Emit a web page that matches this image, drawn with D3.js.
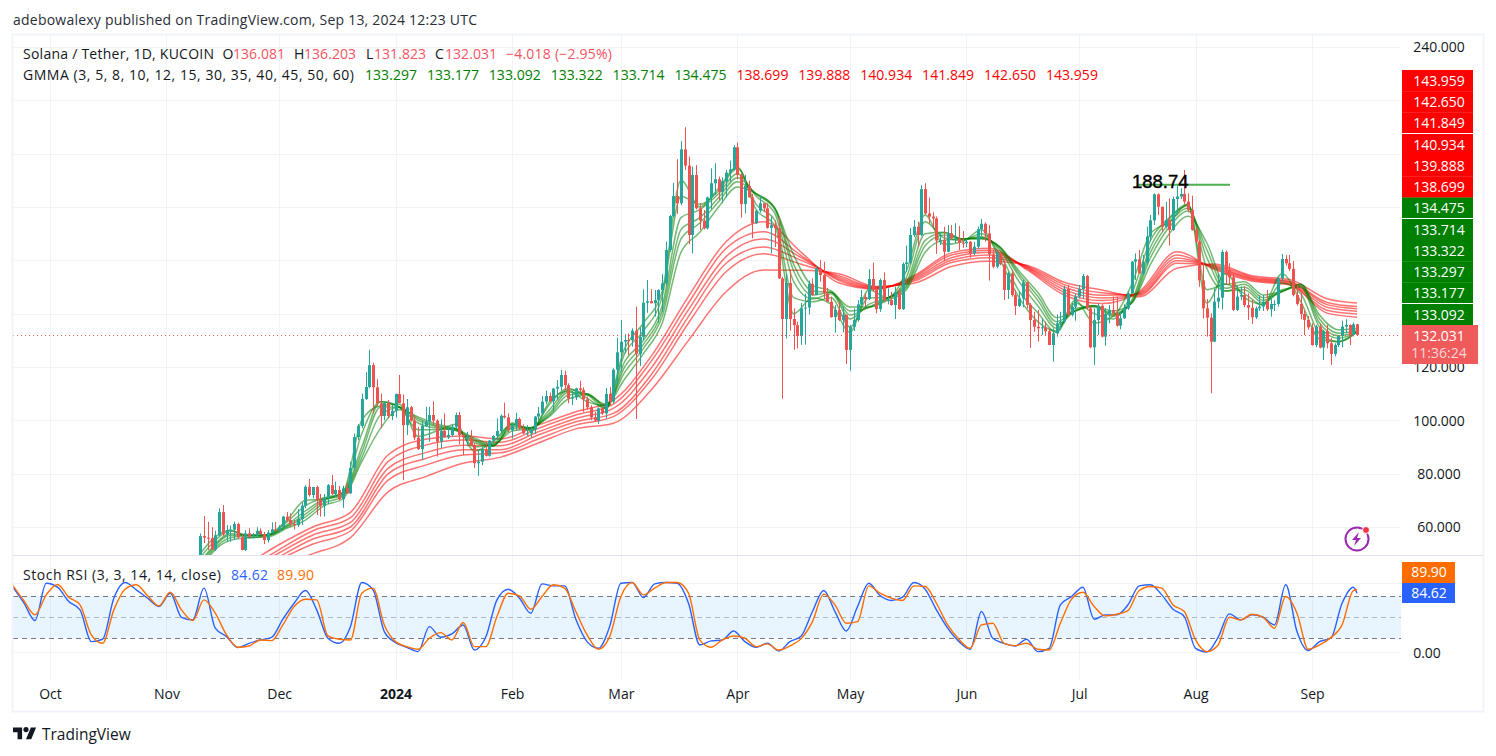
<!DOCTYPE html>
<html>
<head>
<meta charset="utf-8">
<title>SOL/USDT daily</title>
<script src="https://cdn.jsdelivr.net/npm/d3@7/dist/d3.min.js"></script>
<style>
  html, body { margin: 0; padding: 0; background: #fff; }
  svg { display: block; }
  text { font-family: "Open Sans", "Noto Sans", sans-serif; }
</style>
</head>
<body>
<svg id="chart" width="1496" height="756"></svg>
<script>
// Daily candles, first session 2023-11-10; open of each day is the prior close.
const firstSession = Date.UTC(2023, 10, 10);
const firstOpen = 49;
const closes = [
56.6,56,55.8,51.6,56.9,65.6,57.2,58.9,59,61.1,
56.1,51.4,57.6,56.3,56.8,58.6,57.3,55.1,57.9,59.1,
58.6,59.9,63.9,62.6,61.1,60.7,63,68,75.1,72,
75,70.1,68,71,75.7,72.4,73.9,70.4,74.5,72.6,
82.1,93.7,97.9,108,112.5,120.7,112.4,106.4,101.6,106.5,
101.6,103.6,109.9,106.4,98.2,104.9,99.9,93.5,89.2,97.9,
99.5,102,99.9,92,96.1,93.6,94.5,97.6,102,94.5,
93.6,93.6,90.7,83.9,84.5,89.1,86.7,92.4,94.1,96,
101.7,101.1,96.3,98.2,100.5,97,95.1,95.1,96.6,101.4,
102.6,107,109.1,107.2,111.9,112.6,117,113.2,108.2,108.6,
112,111.4,107.9,104.9,101.1,99.9,104.5,102.6,109.9,107,
119,125.5,129.5,130.1,130,133.6,124.9,131.3,144.1,144.7,
143.9,145.1,148.9,151.4,163.9,176.6,184.1,181.4,201.6,195.5,
169.5,192,179.5,174.9,172,183.6,188.9,190.4,185.7,189.7,
192.9,194.1,202.4,192,181.1,187.9,183.6,173.9,178.6,181.4,
179.5,172.2,173.2,172,153.2,138,151.5,138,135.7,131.6,
142,142.3,151.2,147,157,154.5,147.6,144.5,138.7,141.4,
137.6,139.5,126.4,135.1,137.6,143.5,146.2,145.5,153,148.9,
141.7,152.6,145.1,145.1,143.2,148,141.7,158.6,159.2,169.5,
172.6,169.5,186.7,177.6,176.4,175.7,167.4,167.6,163.2,170.1,
168.2,168.2,166.6,166.4,167,162.6,165.1,171.7,173.7,170.1,
162.2,157.6,162.6,158.5,148.9,155.1,147,142.9,145.7,151.75,
143.3,137.6,135.1,134.5,134.9,133.4,128.25,132.6,136.4,137,
149.25,139.5,142.6,146.4,149.25,154.1,142,127.4,137.6,143,
131.4,139.9,141.4,140.1,135.5,138.25,142,147.6,159.5,160.4,
155.1,159.25,168.9,175,184.75,180.1,172.6,175.1,171.4,183,
183.9,184.9,182,178.9,171.4,167,152.5,142,138.5,129.5,
144.5,146,163.15,156.4,153.65,141.4,146.4,147,143.25,142.25,
138.65,142,142.65,144.5,141.65,143.65,143.65,153.25,160.5,158.9,
156.8,147,143.65,139.9,137.65,134.9,128.25,135.15,127.3,133.5,
128.9,124.9,128.25,131.65,135.15,135.75,132,136,132.031];
const highs = [
57.6,64.1,61.9,59.9,58.6,67,68.2,60.7,60.5,62,
61.6,57.3,58.8,59.5,57.8,59.9,59.5,58.2,58.8,61.7,
61.9,60.7,64.1,65.6,65.1,62.6,66.7,69.2,75.7,78,
75,75.5,72.4,72.4,76.1,79.5,77,75.4,75.5,76.4,
84.5,95.1,98.6,110,118,126.4,121.6,115.4,110,107,
107.6,105.7,110,117,109.7,108,105.4,101.4,97.6,99.9,
105.1,105.1,107.1,100.4,100.4,102.6,97.6,98.5,102.9,103.2,
95.5,95.7,96.3,91.4,89,90.1,92,92.6,94.5,100.7,
102.2,106.6,102.6,98.6,102.9,101.1,98.5,98.2,97.6,101.6,
105.1,109.1,111.1,110.4,112.2,115.1,118.9,118.6,113.9,111,
112.2,114.9,112.4,108.9,105.7,103.2,104.9,105.1,112.2,112.4,
119.5,131,137.6,132.3,132.6,134.5,142.6,134.8,149.1,152.6,
149.2,148.9,149.1,154.9,167,177,189.1,197.9,204.7,209.9,
198.9,195.1,195.7,181.4,178.9,183.9,194.5,196.4,191.4,191.1,
193.9,197.4,203.2,204.2,192.6,192,189.9,184.9,178.9,184.1,
181,181.4,176.4,175,176.4,153.8,155,156,142,137,
144,147.5,152.4,153.2,158,160.1,159.5,149.7,146.4,143.2,
144.5,142.6,139.7,135.7,142,145.1,148.9,147.6,156.7,159.2,
150.1,153.2,155.5,149.5,148.2,150.1,149.5,159.2,165.5,172.2,
175.1,174.5,188.2,188.9,183.5,178,176.4,170.1,172.6,173.2,
173.2,173.9,172.9,171,168,167.2,167,172.6,175.5,174.2,
173.2,163.9,163.9,163,160.1,155.7,156.4,148.9,148.2,152.7,
152,144,140.7,141.4,138.2,137,134.5,134.5,139.75,140.7,
150.5,150.75,144,147.6,150.75,154.9,154.5,142.6,142,143.9,
143.5,142,143.25,146.4,146.4,140.75,143.5,148.25,159.75,162.6,
163.9,162,172.6,177,185.1,185.1,180.1,182,183.25,183.9,
188,187,193.9,185.1,184.25,172.6,167.6,159.25,145.5,140.15,
149.5,155,164,163.65,158.9,155.15,150.4,150.15,150.15,147.6,
145.15,142.65,147,147,148.9,146.4,145,153.9,162.4,162,
162,159.75,150.8,147.65,141.4,139.15,136.4,135.75,136.4,133.9,
135.75,130.8,128.9,132,137.4,137.9,136,136.65,136.203];
const lows = [
48,54,51.4,51.3,51,56.4,56.6,54.5,54.5,55.1,
55.7,51.3,51,56,55.7,56.1,57,53.6,54.2,57.6,
58.5,58.5,58.9,62,60.1,59.1,60,60.7,67,71.4,
70.7,64.5,63.9,63.9,68.6,72,71.4,70.1,67.2,72.4,
72.4,81.4,92.6,97,107.6,112,102.6,105,97,100,
100.7,100.1,101.1,106.4,77.6,94.5,99.5,92.6,88.9,85.1,
97.6,92,98.2,86.4,89.5,93.6,93,93.9,97,91.1,
87,90.3,90.7,82.2,79.2,83.2,86.4,86.4,91.4,92.6,
95.1,100.7,95.5,93.2,96.3,96.3,94.9,94.2,93.6,94.9,
100.1,102,106.1,106.9,103.2,107.6,111.1,111.4,106.4,105.7,
107.6,110.7,103.2,103.9,100.1,99.5,98.6,102,100.7,105.7,
106.1,113.5,118.2,125.1,124.5,127.6,100.5,120.4,130.1,140.3,
143.9,138.9,136.6,140.7,150.4,163.2,176.1,177.4,180.7,193.9,
166.1,162.6,179.1,171.4,171.6,171.6,179.1,184.5,182.6,181.4,
183.6,189.5,193.6,190.4,176,177.6,183.6,168.2,173.6,177.9,
178,171.9,162.6,165,153,108.1,130.7,133.7,126.5,127,
128.3,128.4,139.7,146.7,147,152,145.5,144.2,138.5,132.9,
137.2,133,121.1,118.6,133.5,137,142.6,142.6,145.1,148.2,
140.1,140.7,144.5,143.5,143,138,141.5,141.4,155.7,158.5,
168.7,165.1,169.1,177,173.9,172.6,162.4,165.7,159.7,163,
167.6,166.5,163.9,164.7,165,161,162,164.2,168.2,167,
152.4,157,157,158.2,145.1,145.5,146.4,139.5,142.5,142.4,
142,127.2,133.2,129.5,132,132,128.2,122,131.4,134,
136.4,139.25,139,137.4,145.7,145.7,141.75,127,120.75,132,
131.1,128,136.4,138.9,135.1,134.1,138,141.4,147.6,152.6,
155,154.5,158,167,173.25,177,170.75,172,165.5,171.1,
177,183,181,178,171.1,166.5,150.1,138.25,131.4,110.15,
129.3,142,141.6,150.8,150.8,141,141,145,142.4,137.65,
136.15,138,141,141,141,138.9,141,142.65,152,158,
156,146.5,143,137.9,132,134,128,127.4,127,122.65,
127,120.75,124,127.5,127.4,132.65,128.25,131.5,131.823];

// GMMA short group: one row per sampled session, columns are periods 3,5,8,10,12,15.
const fastPeriods = [3, 5, 8, 10, 12, 15];
const fastSessions = [0, ...d3.range(3, 309, 5)];
const fastRows = [
[50,48.5,47,46,45,44],[55,53.5,52,51.5,50.7,50],[58.8,58.5,57.5,56.8,56,55],[56,56.8,57,57,56.7,56],
[57,57,57,57,56.8,56.3],[62.5,61.8,60.8,60.3,60,59.5],[70,68,66,64.8,63.8,62.6],[70.5,71,70.5,70,69,68],
[73,72.8,72.5,72,71.5,70.6],[100,95,90,88,86,84.5],[105.5,107,107,105,102,97],[106,105,105,105,104.8,104],
[94,96.5,99,100,100.7,101.3],[96,96.5,97,97.6,98,98.6],[98.5,97,96.3,96.3,96.6,96.9],[88.5,90,91.6,92.3,92.8,93.4],
[92,91,90.3,90.4,90.6,91],[98.5,99,98.5,97.8,97,96],[96,96.5,97,97.2,97.2,97],[107,106,104,102.8,102,101.5],
[111,112,111.5,110.5,109.5,108],[107,108.3,109.7,110,110,109.5],[105.5,104.5,104.5,105,105.5,106],[127,125,122,120,118,115.5],
[136.5,133.5,130,128.5,127,125],[148.5,146.5,143,141,139,136.5],[190,184,176,171.5,168,163],[180,181,179,176,174,170.5],
[187,186,185,183.5,182,180],[195,194.5,192.5,191,189.5,187.5],[179,181,184,184.8,185,185],[173,175,177.5,179,179.6,179.6],
[140,146,152,156,158.5,162],[146,144.5,145.5,147,148.5,150.5],[143.5,146,147.5,148,148,148.5],[133,135,138,139.5,141,142.5],
[149,146,143.5,142.5,142.3,142.5],[146,146,146,145.8,145.5,145],[156,153.5,151.5,150.5,149.8,149],[177,174.5,170,167.5,165.5,163],
[166,168.5,170.5,170.3,169.5,167.5],[167,167.5,168,168,168,168],[171.5,170,168.8,168.5,168.3,168],[160,162,163.7,164.5,164.8,165],
[146,148.5,152,154,155,156],[137,140.3,143,145,146.5,148],[133.5,133,134.5,135.7,137,138.5],[145,144,142,141.2,141,141],
[136.5,140,142.5,143,143,143],[139,138,139,139.5,140,141],[151,147.5,145,144.3,144,144],[170,167.5,165,163,161,158.5],
[174.5,176,175.5,174,172.5,170],[181,181,180.5,179.5,178.5,176.5],[144,149,157,161,164,166.5],[155,151,148.5,148.5,149.5,151],
[146,147.5,149,150,151,152],[143.5,143.2,144,145,146,147],[155,151.5,149,148.3,148.2,148.5],[144.5,147.5,150,150.5,151,151],
[130.5,132.5,135,136.5,138,139.5],[129.5,129.5,130.8,131.7,132.7,134],[133.297,133.177,133.092,133.322,133.714,134.475]];

// GMMA long group: columns are periods 30,35,40,45,50,60.
const slowPeriods = [30, 35, 40, 45, 50, 60];
const slowSessions = [...d3.range(0, 301, 10), 308];
const slowRows = [
[38,36,35,34,33,31],[44,42,41,40,39,37],[52.6,50.7,49.5,48,47,45],[60,58.6,57,55.5,53.6,50],
[65.5,63.5,61.7,60,58.5,56],[87,84.5,82,79.9,77.6,73.2],[92.9,90.7,87.9,85.7,83.2,78.9],[94.1,92.6,90.7,89,87,83.9],
[93,91.8,90.5,89,87.8,86.2],[98.2,97,95.7,94.5,93,91.5],[103.2,102,100.7,99.5,98.2,96.8],[107.6,106.1,104.5,102.6,101.4,98.9],
[123.9,122,119.5,117,115.1,111.3],[146.5,144,141.5,139,136.5,130],[167,164.5,161.4,158.9,155.7,148.2],[174.5,170.7,168,165,162.5,156.4],
[163,161.8,161,160,158.5,156.3],[151.6,152.5,153,153.6,154.2,155],[149.2,149.4,149.6,149.8,150,150.2],[154.2,153.7,153.2,152.7,152.2,151.4],
[162.8,162,161,160,159.2,157.7],[164.5,163.8,163,162,161,159.7],[156.6,157,157.4,157.7,158,158.2],[147,148,149,150,150.9,151.75],
[143.8,144.9,145.9,146.9,147.8,148.9],[148.3,147.9,147.6,147.3,146.9,146.3],[163.2,162,160.9,159.8,158.9,157],[156.6,157,157.4,157.8,158.2,158.6],
[152.2,152.6,153,153.4,153.8,154.2],[150.8,151.1,151.5,151.9,152.2,152.8],[140.2,141.3,142.4,143.4,144.2,145.6],[138.699,139.888,140.934,141.849,142.65,143.959]];

// Stoch RSI %K and %D, sampled every third day from 2023-09-21, plus the final session.
const rsiFirstDay = Date.UTC(2023, 8, 21);
const rsiOffsets = [...d3.range(0, 358, 3), 358];
const stochK = [94.3,71.3,45.5,99,93.3,72.7,60.8,15.3,18.7,77.5,100,89.5,77.5,65.6,84.7,50.2,46.4,91.9,34.5,22.5,
6.7,12.9,17.7,21.5,47.4,70.3,88.5,60.8,20.1,12.9,36.8,100,89.5,29.7,13.9,7.2,1,36.8,21.5,26.3,
39.2,3.3,21.5,75.1,90.4,77.5,56,98,95.2,95.2,47.4,15.3,5.7,36.8,99,100,78.5,98,100,99,
70.3,10.5,16.3,17.7,30.6,15.3,7.2,12.9,1.9,15.3,23.4,58.4,88.5,58.4,30.6,65.6,99,81.3,74.2,79,
100,90.4,60.8,34.5,15.3,4.3,58.4,20.1,12.9,9.1,18.7,1,5.7,67.9,79.9,93.3,47.4,53.6,53.6,67.9,
95.2,96.7,82.3,61.7,51.2,5.7,0.5,21.5,55,46.4,53.6,50.2,39.2,96.7,29.7,2.4,15.3,20.1,70.3,93.3,84.62];
const stochD = [96.7,74.2,53.6,82.3,97.1,79,67.9,24.9,12.9,60.8,90.4,96.7,80.9,66.5,86.1,60.8,45.5,75.1,56,24.9,
7.2,9.1,17.7,16.7,39.2,65.6,76.1,75.1,23.4,18.7,17.7,84.7,91.9,39.2,15.3,8.1,4.3,20.1,28.2,17.7,
42.6,8.1,8.1,51.2,84.7,80.9,61.7,79.9,96.7,91.9,58.4,24.9,4.3,22.5,79.9,100,82.3,91.9,100,100,
84.7,17.7,7.2,17.7,23.4,20.1,8.1,12,3.3,9.1,19.6,44,83.3,67.9,41.6,44,95.2,84.7,77.5,74.2,
95.2,94.3,70.3,39.2,18.7,5.7,39.2,41.6,12.9,9.6,12.9,4.3,3.3,41.6,76.1,86.1,65.6,52.2,54.5,59.8,
88.5,94.3,91.9,67.9,58.4,17.7,1,10.5,50.2,46.4,54.5,50.2,34.5,79.9,56,4.3,10.5,21,39.2,88.5,89.9];

const priceTicks = [240, 120, 100, 80, 60];
const priceGrid = [240, 220, 200, 180, 160, 140, 120, 100, 80, 60];
const timeTicks = [
  Date.UTC(2023,9,1), Date.UTC(2023,10,1), Date.UTC(2023,11,1), Date.UTC(2024,0,1),
  Date.UTC(2024,1,1), Date.UTC(2024,2,1), Date.UTC(2024,3,1), Date.UTC(2024,4,1),
  Date.UTC(2024,5,1), Date.UTC(2024,6,1), Date.UTC(2024,7,1), Date.UTC(2024,8,1)];
const timeLabels = ["Oct","Nov","Dec","2024","Feb","Mar","Apr","May","Jun","Jul","Aug","Sep"];
const ohlcLegend = [["O","136.081",222.5,233],["H","136.203",294,304],["L","131.823",366,374],["C","132.031",435,445]];
const swingHigh = 188.74;
const lastClose = closes[closes.length - 1];

const DAY = 86400000;
const UP = "#26a69a", DOWN = "#ef5350", INK = "#131722", FRAME = "#f0f3fa", GRID = "#f2f3f6";
const paneLeft = 13, paneRight = 1401, priceTop = 35, priceBottom = 555, rsiBottom = 680;

const svg = d3.select("#chart");
const x = d3.scaleUtc().domain([timeTicks[0], timeTicks[11]]).range([50, 1312]);
const y = d3.scaleLinear().domain([240, 60]).range([47, 527]);
const yRsi = d3.scaleLinear().domain([0, 100]).range([652.3, 582.5]);
const sessionX = i => x(firstSession + i * DAY);

const defs = svg.append("defs");
defs.append("clipPath").attr("id", "priceClip").append("rect")
  .attr("x", paneLeft).attr("y", priceTop).attr("width", paneRight - paneLeft).attr("height", priceBottom - priceTop);
defs.append("clipPath").attr("id", "rsiClip").append("rect")
  .attr("x", paneLeft).attr("y", priceBottom).attr("width", paneRight - paneLeft).attr("height", rsiBottom - priceBottom);

// grid
const grid = svg.append("g").attr("stroke", GRID).attr("stroke-width", 1);
grid.selectAll(".h").data(priceGrid).join("line")
  .attr("x1", paneLeft).attr("x2", paneRight)
  .attr("y1", d => Math.round(y(d)) + .5).attr("y2", d => Math.round(y(d)) + .5);
grid.selectAll(".v").data(timeTicks).join("line")
  .attr("x1", d => Math.round(x(d)) + .5).attr("x2", d => Math.round(x(d)) + .5)
  .attr("y1", priceTop).attr("y2", rsiBottom);
grid.selectAll(".r").data([0, 100]).join("line")
  .attr("x1", paneLeft).attr("x2", paneRight)
  .attr("y1", d => Math.round(yRsi(d)) + .5).attr("y2", d => Math.round(yRsi(d)) + .5);

// GMMA ribbons
const price = svg.append("g").attr("clip-path", "url(#priceClip)");
function ribbon(periods, sessions, rows, colour) {
  const line = d3.line().curve(d3.curveMonotoneX)
    .x(d => sessionX(d[0])).y(d => y(d[1]));
  periods.forEach((p, col) => {
    price.append("path")
      .attr("d", line(sessions.map((s, i) => [s, rows[i][col]])))
      .attr("fill", "none").attr("stroke", colour).attr("stroke-opacity", .55).attr("stroke-width", 1.5);
  });
}
ribbon(slowPeriods, slowSessions, slowRows, "#ff0000");
ribbon(fastPeriods, fastSessions, fastRows, "#008000");

// candles
const candles = closes.map((c, i) => ({
  i, c, h: highs[i], l: lows[i], o: i ? closes[i - 1] : firstOpen
}));
const colourOf = d => d.c >= d.o ? UP : DOWN;
price.selectAll(".wick").data(candles).join("line")
  .attr("x1", d => Math.round(sessionX(d.i)) + .5).attr("x2", d => Math.round(sessionX(d.i)) + .5)
  .attr("y1", d => y(d.h)).attr("y2", d => y(d.l))
  .attr("stroke", colourOf).attr("stroke-width", 1);
price.selectAll(".body").data(candles).join("rect")
  .attr("x", d => Math.round(sessionX(d.i)) - 1).attr("width", 3)
  .attr("y", d => y(Math.max(d.o, d.c)))
  .attr("height", d => Math.max(1, Math.abs(y(d.o) - y(d.c))))
  .attr("fill", colourOf);

// last price marker
svg.append("line").attr("x1", paneLeft).attr("x2", paneRight)
  .attr("y1", Math.round(y(lastClose)) + .5).attr("y2", Math.round(y(lastClose)) + .5)
  .attr("stroke", DOWN).attr("stroke-dasharray", "1 3");

// swing-high note
svg.append("line").attr("x1", 1137).attr("x2", 1230)
  .attr("y1", y(swingHigh) + 1).attr("y2", y(swingHigh) + 1)
  .attr("stroke", "#4caf50").attr("stroke-width", 2);
svg.append("text").attr("x", 1132).attr("y", 188).text(swingHigh)
  .style("font-family", "'Liberation Sans', sans-serif").attr("font-size", 18.5).attr("fill", "#000")
  .attr("stroke", "#000").attr("stroke-width", .4);

// Stoch RSI pane
const rsi = svg.append("g").attr("clip-path", "url(#rsiClip)");
rsi.append("rect").attr("x", paneLeft).attr("width", paneRight - paneLeft)
  .attr("y", yRsi(80)).attr("height", yRsi(20) - yRsi(80)).attr("fill", "#2196f3").attr("fill-opacity", .1);
[[80, 1], [50, .5], [20, 1]].forEach(([v, a]) => {
  rsi.append("line").attr("x1", paneLeft).attr("x2", paneRight)
    .attr("y1", Math.round(yRsi(v)) + .5).attr("y2", Math.round(yRsi(v)) + .5)
    .attr("stroke", "#787b86").attr("stroke-opacity", a).attr("stroke-dasharray", "5 4");
});
const rsiLine = d3.line().curve(d3.curveMonotoneX)
  .x(d => x(rsiFirstDay + d[0] * DAY)).y(d => yRsi(d[1]));
const rsiPath = (vals, col) => rsi.append("path")
  .attr("d", rsiLine(rsiOffsets.map((o, i) => [o, vals[i]])))
  .attr("fill", "none").attr("stroke", col).attr("stroke-width", 1.4);
rsiPath(stochK, "#2962ff");
rsiPath(stochD, "#ff6d00");

// axes
const yAxis = svg.append("g").attr("transform", "translate(1402,0)")
  .call(d3.axisRight(y).tickValues(priceTicks).tickSize(0).tickFormat(d3.format(".3f")));
yAxis.select(".domain").remove();
yAxis.selectAll("text").attr("x", 37).attr("dy", ".35em").attr("text-anchor", "middle")
  .style("font-size", "14px").attr("fill", INK);
const xAxis = svg.append("g").attr("transform", "translate(0,689)")
  .call(d3.axisBottom(x).tickValues(timeTicks).tickSize(0)
    .tickFormat((d, i) => timeLabels[i]));
xAxis.select(".domain").remove();
xAxis.selectAll("text").attr("y", 0).attr("dy", ".71em")
  .style("font-size", "14px").attr("fill", INK)
  .style("font-weight", (d, i) => timeLabels[i] === "2024" ? 700 : 400);
const rsiAxis = svg.append("g").attr("transform", "translate(1402,0)")
  .call(d3.axisRight(yRsi).tickValues([0]).tickSize(0).tickFormat(d3.format(".2f")));
rsiAxis.select(".domain").remove();
rsiAxis.selectAll("text").attr("x", 25).attr("dy", ".35em").attr("text-anchor", "middle")
  .style("font-size", "14px").attr("fill", INK);

// value tags on the price scale
const fastLast = fastRows[fastRows.length - 1], slowLast = slowRows[slowRows.length - 1];
const tagList = [
  ...slowLast.map(v => ({ v, col: "#ff0000" })),
  ...fastLast.map(v => ({ v, col: "#008000" }))
].sort((a, b) => b.v - a.v);
const tags = svg.append("g");
tagList.forEach((t, i) => {
  const top = 70 + i * 21.25;
  tags.append("rect").attr("x", 1402).attr("y", top).attr("width", 71).attr("height", 21.5).attr("fill", t.col);
  tags.append("text").attr("x", 1439).attr("y", top + 11).attr("dy", ".35em").attr("text-anchor", "middle")
    .attr("font-size", 14).attr("fill", "#fff").text(t.v.toFixed(3));
});
[133.5, 218.5, 303.5].forEach(gap => tags.append("line")
  .attr("x1", 1402).attr("x2", 1473).attr("y1", gap).attr("y2", gap).attr("stroke", "#fff"));
tags.append("rect").attr("x", 1402).attr("y", 325).attr("width", 76).attr("height", 39).attr("fill", "#ef5a5a");
tags.append("text").attr("x", 1439).attr("y", 336).attr("dy", ".35em").attr("text-anchor", "middle")
  .attr("font-size", 14).attr("fill", "#fff").text(lastClose.toFixed(3));
tags.append("text").attr("x", 1439).attr("y", 353).attr("dy", ".35em").attr("text-anchor", "middle")
  .attr("font-size", 14).attr("fill", "#fff").attr("fill-opacity", .75).text("11:36:24");
[[562, "#ff6d00", stochD], [583, "#2962ff", stochK]].forEach(([top, col, vals]) => {
  tags.append("rect").attr("x", 1402).attr("y", top).attr("width", 53).attr("height", top === 562 ? 21 : 20).attr("fill", col);
  tags.append("text").attr("x", 1429).attr("y", top + 10.5).attr("dy", ".35em").attr("text-anchor", "middle")
    .attr("font-size", 14).attr("fill", "#fff").text(vals[vals.length - 1].toFixed(2));
});

// legends: widths are pinned because the header strings set the column layout
const label = (tx, ty, str, col, span) => {
  const t = svg.append("text").attr("x", tx).attr("y", ty)
    .attr("font-size", 14).attr("fill", col || INK).text(str);
  if (span) t.attr("textLength", span);
  return t;
};
label(13, 25, "adebowalexy published on TradingView.com, Sep 13, 2024 12:23 UTC", "#2a2e39", 464);
label(23, 59, "Solana / Tether, 1D, KUCOIN", INK, 191);
ohlcLegend.forEach(([k, v, kx, vx]) => {
  label(kx, 59, k);
  label(vx, 59, v, "#f7525f", 52);
});
label(506, 59, "\u22124.018 (\u22122.95%)", "#f7525f", 106);
label(23, 80, "GMMA (3, 5, 8, 10, 12, 15, 30, 35, 40, 45, 50, 60)", INK, 331);
[...fastLast, ...slowLast].forEach((v, i) => {
  label(365 + i * 61.9, 80, v.toFixed(3), i < 6 ? "#008000" : "#ff0000", 52);
});
label(23, 580, "Stoch RSI (3, 3, 14, 14, close)", INK, 198);
label(231, 580, stochK[stochK.length - 1].toFixed(2), "#2962ff", 37);
label(277, 580, stochD[stochD.length - 1].toFixed(2), "#ff6d00", 37);

// frame
svg.append("rect").attr("x", 12.5).attr("y", 34.5).attr("width", 1471).attr("height", 677)
  .attr("fill", "none").attr("stroke", FRAME).attr("stroke-width", 2);
svg.append("line").attr("x1", 13).attr("x2", 1483).attr("y1", 555.5).attr("y2", 555.5).attr("stroke", "#e0e3eb");

// brand mark
const brand = svg.append("g").attr("transform", "translate(13,725) scale(.65)").attr("fill", INK);
brand.append("path").attr("d", "M14 22H7V11H0V4h14v18zM28 22h-8l7.5-18h8L28 22z");
brand.append("circle").attr("cx", 20).attr("cy", 7).attr("r", 4);
svg.append("text").attr("x", 42).attr("y", 740).attr("font-size", 15.5).attr("fill", INK).text("TradingView");

// news badge
const badge = svg.append("g").attr("transform", "translate(1357,539)");
badge.append("circle").attr("r", 11.5).attr("fill", "#fff").attr("stroke", "#9c27b0").attr("stroke-width", 2);
badge.append("path").attr("d", "M2-7L-5 1h4l-2 6 7-8H0z").attr("fill", "#9c27b0");
badge.append("circle").attr("cx", 9).attr("cy", -9).attr("r", 3.5).attr("fill", "#f23645").attr("stroke", "#fff");
</script>
</body>
</html>
